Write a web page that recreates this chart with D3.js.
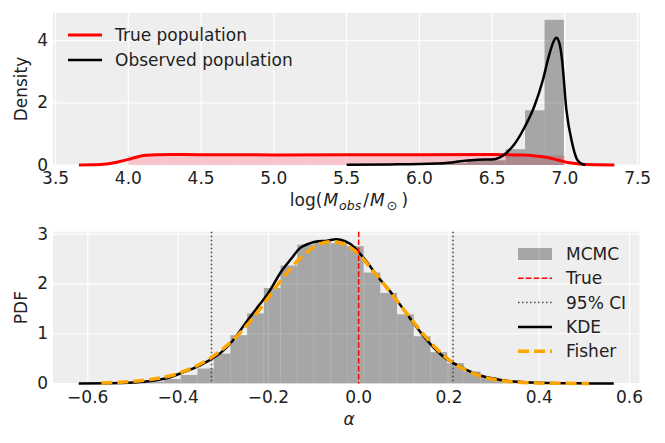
<!DOCTYPE html>
<html>
<head>
<meta charset="utf-8">
<script src="https://cdn.jsdelivr.net/npm/d3@7"></script>
<style>
  body { margin: 0; background: #fff; }
  text { font-family: "DejaVu Sans", sans-serif; font-size: 17px; fill: #222; }
</style>
</head>
<body>
<svg id="chart" width="665" height="443"></svg>
<script>
// ---- top panel data ----
const massTicks = [3.5, 4.0, 4.5, 5.0, 5.5, 6.0, 6.5, 7.0, 7.5];
const densityTicks = [0, 2, 4];

// true population: flat histogram + KDE
const trueHistEdges = [4.0, 4.25, 4.5, 4.75, 5.0, 5.25, 5.5, 5.75, 6.0, 6.25, 6.5, 6.75, 7.0];
const trueHistDensity = [0.29, 0.31, 0.31, 0.31, 0.31, 0.31, 0.31, 0.31, 0.31, 0.31, 0.31, 0.31];
const trueKdeX = [3.66, 3.75, 3.85, 3.92, 4.0, 4.06, 4.12, 4.2, 4.3, 4.5, 5.0, 5.5, 6.0, 6.5, 6.7, 6.8, 6.88, 6.95, 7.02, 7.1, 7.2, 7.34];
const trueKdeY = [0.0, 0.005, 0.03, 0.09, 0.18, 0.26, 0.31, 0.33, 0.335, 0.33, 0.325, 0.33, 0.33, 0.335, 0.32, 0.29, 0.24, 0.16, 0.08, 0.03, 0.005, 0.0];

// observed population: histogram + KDE
const obsHistEdges = [5.526, 5.659, 5.793, 5.926, 6.059, 6.193, 6.326, 6.459, 6.592, 6.726, 6.86, 6.993];
const obsHistDensity = [0.02, 0.02, 0.03, 0.03, 0.04, 0.06, 0.14, 0.15, 0.51, 1.76, 4.67];
const obsKdeX = [5.5, 5.8, 6.0, 6.2, 6.3, 6.4, 6.5, 6.55, 6.6, 6.65, 6.72, 6.79, 6.85, 6.89, 6.92, 6.94, 6.96, 6.98, 7.01, 7.05, 7.08, 7.11, 7.14];
const obsKdeY = [0.01, 0.02, 0.03, 0.07, 0.13, 0.17, 0.18, 0.24, 0.4, 0.65, 1.19, 1.89, 2.76, 3.51, 3.95, 4.09, 3.95, 3.4, 1.78, 0.7, 0.21, 0.05, 0.0];

// ---- bottom panel data ----
const alphaTicks = [-0.6, -0.4, -0.2, 0.0, 0.2, 0.4, 0.6];
const pdfTicks = [0, 1, 2, 3];
const mcmcEdges = [-0.616, -0.579, -0.542, -0.505, -0.468, -0.431, -0.394, -0.357, -0.321, -0.284, -0.247,
  -0.210, -0.173, -0.136, -0.099, -0.062, -0.026, 0.011, 0.048, 0.085, 0.122, 0.159, 0.196, 0.233,
  0.270, 0.307, 0.343, 0.380, 0.417, 0.454, 0.491, 0.528, 0.565];
const mcmcDensity = [0.003, 0.005, 0.01, 0.02, 0.04, 0.09, 0.17, 0.30, 0.60, 0.97, 1.41, 1.92, 2.37, 2.79,
  2.85, 2.82, 2.76, 2.23, 1.82, 1.39, 0.95, 0.63, 0.41, 0.24, 0.13, 0.07, 0.035, 0.015, 0.008, 0.004, 0.002, 0.001];
const kdeX = [-0.62, -0.55, -0.5, -0.46, -0.42, -0.39, -0.36, -0.33, -0.3, -0.28, -0.25, -0.22, -0.2, -0.17, -0.15,
  -0.13, -0.11, -0.09, -0.07, -0.05, -0.03, -0.01, 0.0, 0.02, 0.04, 0.07, 0.1, 0.13, 0.16, 0.19, 0.21, 0.24,
  0.27, 0.3, 0.33, 0.37, 0.42, 0.48, 0.565];
const kdeY = [0.0, 0.005, 0.02, 0.05, 0.12, 0.22, 0.33, 0.47, 0.66, 0.85, 1.22, 1.58, 1.82, 2.27, 2.5,
  2.72, 2.81, 2.86, 2.87, 2.9, 2.86, 2.74, 2.64, 2.42, 2.17, 1.85, 1.48, 1.11, 0.78, 0.52, 0.41, 0.27,
  0.16, 0.095, 0.05, 0.025, 0.01, 0.003, 0.0];
const fisherX = [-0.57, -0.52, -0.48, -0.44, -0.4, -0.36, -0.33, -0.3, -0.27, -0.24, -0.21, -0.18, -0.15, -0.12,
  -0.09, -0.06, -0.03, 0.0, 0.03, 0.06, 0.09, 0.12, 0.15, 0.18, 0.21, 0.24, 0.27, 0.3, 0.34, 0.38, 0.43, 0.51];
const fisherY = [0.01, 0.03, 0.06, 0.11, 0.2, 0.35, 0.5, 0.7, 0.95, 1.25, 1.6, 1.98, 2.32, 2.6,
  2.79, 2.85, 2.79, 2.6, 2.28, 1.95, 1.6, 1.25, 0.92, 0.63, 0.41, 0.26, 0.15, 0.08, 0.035, 0.015, 0.005, 0.001];
const trueAlpha = 0.0;
const ciBounds = [-0.326, 0.209];

const svg = d3.select('#chart');

function panel(x, y, xTicks, yTicks, xFmt) {
  const g = svg.append('g');
  const [x0, x1] = x.range(), [y0, y1] = y.range();
  g.append('rect').attr('x', x0).attr('y', y1).attr('width', x1 - x0).attr('height', y0 - y1).attr('fill', '#eeeeee');
  g.selectAll('.gx').data(xTicks).enter().append('line')
    .attr('x1', d => x(d)).attr('x2', d => x(d)).attr('y1', y1).attr('y2', y0)
    .attr('stroke', '#fff').attr('stroke-width', 1.2);
  g.selectAll('.gy').data(yTicks).enter().append('line')
    .attr('x1', x0).attr('x2', x1).attr('y1', d => y(d)).attr('y2', d => y(d))
    .attr('stroke', '#fff').attr('stroke-width', 1.2);
  g.selectAll('.tx').data(xTicks).enter().append('text')
    .attr('x', d => x(d)).attr('y', y0 + 19).attr('text-anchor', 'middle').text(xFmt);
  g.selectAll('.ty').data(yTicks).enter().append('text')
    .attr('x', x0 - 5).attr('y', d => y(d) + 5.5).attr('text-anchor', 'end').text(d => d);
  return g;
}

function bars(g, x, y, edges, vals, fill, opacity) {
  g.selectAll(null).data(vals).enter().append('rect')
    .attr('x', (d, i) => x(edges[i])).attr('width', (d, i) => x(edges[i + 1]) - x(edges[i]))
    .attr('y', d => y(d)).attr('height', d => y(0) - y(d))
    .attr('fill', fill).attr('fill-opacity', opacity);
}

function curve(g, x, y, xs, ys, color, width, dash) {
  const line = d3.line().x(d => x(d[0])).y(d => y(d[1])).curve(d3.curveMonotoneX);
  g.append('path').datum(xs.map((v, i) => [v, ys[i]])).attr('d', line)
    .attr('fill', 'none').attr('stroke', color).attr('stroke-width', width)
    .attr('stroke-dasharray', dash || null).attr('stroke-linejoin', 'round');
}

// ---- top panel ----
const xTop = d3.scaleLinear().domain([3.482, 7.516]).range([53, 640]);
const yTop = d3.scaleLinear().domain([0, 4.89]).range([165, 13]);
const gTop = panel(xTop, yTop, massTicks, densityTicks, d => d.toFixed(1));
bars(gTop, xTop, yTop, trueHistEdges, trueHistDensity, '#f8c5cc', 1);
bars(gTop, xTop, yTop, obsHistEdges, obsHistDensity, '#000', 0.3);
curve(gTop, xTop, yTop, trueKdeX, trueKdeY, '#ff0000', 3);
curve(gTop, xTop, yTop, obsKdeX, obsKdeY, '#000', 2.5);

const legTop = [['True population', '#ff0000', 3], ['Observed population', '#000', 2.5]];
legTop.forEach((d, i) => {
  const cy = 35 + i * 25;
  svg.append('line').attr('x1', 68).attr('x2', 102).attr('y1', cy).attr('y2', cy)
    .attr('stroke', d[1]).attr('stroke-width', d[2]);
  svg.append('text').attr('x', 115).attr('y', cy + 6).text(d[0]);
});

svg.append('text').attr('transform', 'translate(21,89) rotate(-90)').attr('text-anchor', 'middle')
  .attr('dy', '0.35em').text('Density');
const xl = svg.append('text').attr('x', 349).attr('y', 206).attr('text-anchor', 'middle');
xl.append('tspan').text('log(');
xl.append('tspan').attr('font-style', 'italic').attr('dx', 1).text('M');
xl.append('tspan').attr('font-style', 'italic').attr('font-size', '12.5px').attr('dx', 1).attr('dy', 4).text('obs');
xl.append('tspan').attr('dy', -4).attr('dx', 2).text('/');
xl.append('tspan').attr('font-style', 'italic').attr('dx', 1).text('M');
xl.append('tspan').attr('font-size', '13px').attr('dx', 2).attr('dy', 4).text('\u2299');
xl.append('tspan').attr('dy', -4).attr('dx', 4).text(')');

// ---- bottom panel ----
const xBot = d3.scaleLinear().domain([-0.677, 0.622]).range([53, 639.5]);
const yBot = d3.scaleLinear().domain([0, 3.05]).range([383.5, 231.7]);
const gBot = panel(xBot, yBot, alphaTicks, pdfTicks, d => (d < 0 ? '\u2212' : '') + Math.abs(d).toFixed(1));
bars(gBot, xBot, yBot, mcmcEdges, mcmcDensity, '#000', 0.3);
gBot.selectAll(null).data(mcmcEdges.slice(1, -1)).enter().append('line')
  .attr('x1', d => xBot(d)).attr('x2', d => xBot(d))
  .attr('y1', (d, i) => yBot(Math.min(mcmcDensity[i], mcmcDensity[i + 1]))).attr('y2', yBot(0))
  .attr('stroke', '#fff').attr('stroke-opacity', 0.12).attr('stroke-width', 0.8);
gBot.selectAll(null).data(ciBounds).enter().append('line')
  .attr('x1', d => xBot(d)).attr('x2', d => xBot(d)).attr('y1', yBot(3.05)).attr('y2', yBot(0))
  .attr('stroke', '#444').attr('stroke-width', 1.5).attr('stroke-dasharray', '1.5,2.5');
curve(gBot, xBot, yBot, kdeX, kdeY, '#000', 2.5);
curve(gBot, xBot, yBot, fisherX, fisherY, '#ffa500', 3.5, '11,5');
gBot.append('line').attr('x1', xBot(trueAlpha)).attr('x2', xBot(trueAlpha))
  .attr('y1', yBot(3.05)).attr('y2', yBot(0))
  .attr('stroke', '#ff0000').attr('stroke-width', 1.5).attr('stroke-dasharray', '5.5,2.4');

const legBot = [
  ['MCMC', 'patch'],
  ['True', '#ff0000', 1.5, '5.5,2.4'],
  ['95% CI', '#444', 1.5, '1.5,2.5'],
  ['KDE', '#000', 2.5, null],
  ['Fisher', '#ffa500', 3.5, '11,5']
];
legBot.forEach((d, i) => {
  const cy = 254 + i * 24.3;
  if (d[1] === 'patch') {
    svg.append('rect').attr('x', 518).attr('y', cy - 6).attr('width', 34).attr('height', 12)
      .attr('fill', '#000').attr('fill-opacity', 0.3);
  } else {
    svg.append('line').attr('x1', 518).attr('x2', 552).attr('y1', cy).attr('y2', cy)
      .attr('stroke', d[1]).attr('stroke-width', d[2]).attr('stroke-dasharray', d[3]);
  }
  svg.append('text').attr('x', 566).attr('y', cy + 6).text(d[0]);
});

svg.append('text').attr('transform', 'translate(21,307.6) rotate(-90)').attr('text-anchor', 'middle')
  .attr('dy', '0.35em').text('PDF');
svg.append('text').attr('x', 349).attr('y', 425).attr('text-anchor', 'middle')
  .attr('font-style', 'italic').attr('font-size', '18px').text('\u03b1');
</script>
</body>
</html>
